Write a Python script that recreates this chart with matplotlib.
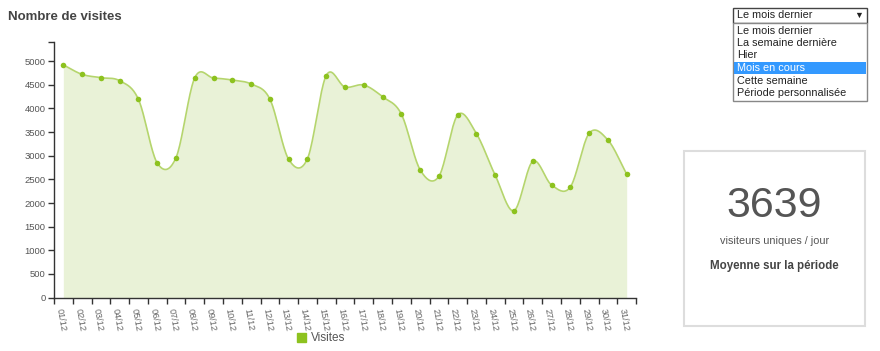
import numpy as np
import matplotlib
matplotlib.use("Agg")
import matplotlib.pyplot as plt
from matplotlib.patches import Rectangle, Patch

plt.rcParams['font.family'] = ['Liberation Sans', 'DejaVu Sans']

# Data
days = ["%02d/12" % d for d in range(1, 32)]
visites = [4920, 4720, 4650, 4585, 4192, 2846, 2958, 4648, 4642, 4600,
           4515, 4198, 2924, 2937, 4695, 4452, 4494, 4247, 3881, 2704,
           2564, 3860, 3465, 2586, 1838, 2882, 2381, 2339, 3473, 3332, 2614]
periodes = ["Le mois dernier", "La semaine dernière", "Hier",
            "Mois en cours", "Cette semaine", "Période personnalisée"]
selection = "Mois en cours"
moyenne = 3639

line_col = "#b5d56d"
dot_col = "#8dc21f"
fill_col = "#e9f2d7"


def catmull_rom(y, n=20):
    # smooth curve through the points (cardinal spline, tension 0)
    y = np.asarray(y, dtype=float)
    x = np.arange(len(y), dtype=float)
    m = np.zeros_like(y)
    m[1:-1] = (y[2:] - y[:-2]) / 2
    m[0] = y[1] - y[0]
    m[-1] = y[-1] - y[-2]
    xs, ys = [], []
    t = np.linspace(0, 1, n, endpoint=False)
    h00 = 2 * t**3 - 3 * t**2 + 1
    h10 = t**3 - 2 * t**2 + t
    h01 = -2 * t**3 + 3 * t**2
    h11 = t**3 - t**2
    for i in range(len(y) - 1):
        xs.append(x[i] + t)
        ys.append(h00 * y[i] + h10 * m[i] + h01 * y[i + 1] + h11 * m[i + 1])
    xs.append([x[-1]])
    ys.append([y[-1]])
    return np.concatenate(xs), np.concatenate(ys)


fig = plt.figure(figsize=(8.8, 3.51), dpi=100)
ax = fig.add_axes([0.0613, 0.152, 0.6615, 0.729])

x = np.arange(len(days))
xs, ys = catmull_rom(visites)
ax.fill_between(xs, 0, ys, color=fill_col, lw=0)
ax.plot(xs, ys, color=line_col, lw=1.2)
ax.plot(x, visites, "o", color=dot_col, ms=4, mec="none")

ax.set_xlim(-0.5, len(days) - 0.5)
ax.set_ylim(0, 5409)

ax.set_yticks(list(range(0, 5001, 500)) + [5409])
ax.set_yticklabels([str(v) for v in range(0, 5001, 500)] + [""])
ax.tick_params(axis="y", length=4, width=1, color="#333333",
               labelsize=6.8, labelcolor="#555555", pad=2)

ax.set_xticks(x)
ax.set_xticklabels(days, rotation=-80, ha="left", va="top",
                   rotation_mode="anchor", fontsize=6.6, color="#666666")
ax.tick_params(axis="x", which="major", length=0, pad=7)
ax.set_xticks(np.arange(-0.5, len(days), 1.0), minor=True)
ax.tick_params(axis="x", which="minor", length=4, width=1, color="#333333")

for s in ["top", "right"]:
    ax.spines[s].set_visible(False)
for s in ["left", "bottom"]:
    ax.spines[s].set_color("#333333")
    ax.spines[s].set_linewidth(1)

fig.text(0.009, 0.952, "Nombre de visites", fontsize=9.5, fontweight="bold",
         color="#444444", va="center")

fig.legend(handles=[Patch(color=dot_col, label="Visites")],
           loc="center", bbox_to_anchor=(0.365, 0.036), frameon=False,
           fontsize=8.5, handlelength=0.8, handleheight=0.8, handletextpad=0.4,
           labelcolor="#555555")

# select box
W, H = 880, 351


def box(x0, y0, w, h, fc, ec, lw=1):
    fig.add_artist(Rectangle((x0 / W, 1 - (y0 + h) / H), w / W, h / H,
                             transform=fig.transFigure, facecolor=fc,
                             edgecolor=ec, lw=lw))


box(733, 8, 134, 15, "white", "#444444")
fig.text(737 / W, 1 - 15.5 / H, periodes[0], fontsize=7.8, color="#222222",
         va="center")
fig.text(859 / W, 1 - 15.5 / H, "▼", fontsize=6.5, color="#222222",
         va="center", ha="center")
box(733, 23, 134, 78, "white", "#888888")
for i, p in enumerate(periodes):
    yc = 30.5 + i * 12.5
    if p == selection:
        box(734, yc - 6.2, 132, 12.4, "#3399ff", "none", lw=0)
        col = "white"
    else:
        col = "#222222"
    fig.text(737 / W, 1 - yc / H, p, fontsize=7.8, color=col, va="center")

# summary card
box(684, 151, 181, 175, "white", "#dddddd", lw=1.5)
cx = 774.5 / W
fig.text(cx, 1 - 206 / H, str(moyenne), fontsize=31, color="#555555",
         ha="center", va="center")
fig.text(cx, 1 - 241 / H, "visiteurs uniques / jour", fontsize=7.8,
         color="#555555", ha="center", va="center")
fig.text(cx, 1 - 266 / H, "Moyenne sur la période", fontsize=8.3,
         fontweight="bold", color="#444444", ha="center", va="center")

fig.savefig("out.png", dpi=100)
